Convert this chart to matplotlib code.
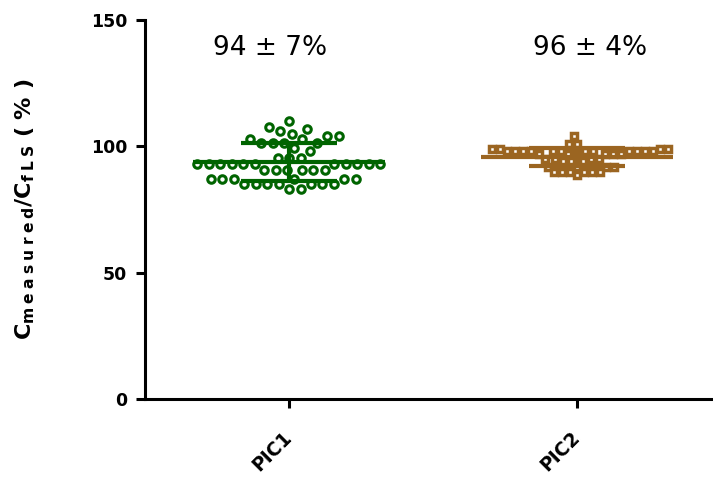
import numpy as np
import matplotlib
matplotlib.use("Agg")
import matplotlib.pyplot as plt

# values (percent)
groups = ["PIC1", "PIC2"]
pic1 = [110, 107.5, 107, 106, 105, 104, 104, 103, 103,
        101.5, 101.5, 101.5, 101.5, 99.5, 98, 95.5, 95.5, 95.5,
        93, 93, 93, 93, 93, 93, 93, 93, 93, 93, 93,
        90.5, 90.5, 90.5, 90.5, 90.5, 90.5,
        87, 87, 87, 87, 87, 87,
        85, 85, 85, 85, 85, 85, 85,
        83, 83]
pic2 = [104, 101, 101, 99, 99, 99, 99,
        98, 98, 98, 98, 98, 98, 98, 98, 98, 98, 98, 98,
        97, 97, 97, 97, 97, 97,
        95, 95, 95, 95, 94, 94, 94,
        92, 92, 92, 92,
        90, 90, 90, 90, 90, 90, 88.5]
colors = ["#006400", "#9B6521"]
markers = ["o", "s"]
spacing = [11.5, 8.0]   # px between neighbouring points (squares overlap in the original)
text_dx = [-0.066, 0.045]

W, H, DPI = 713, 479, 100
YPX = 379 / 150.0   # pixels per percent
XPX = 288.0         # pixels per category step


def swarm_offsets(values, d):
    ys = np.asarray(values, dtype=float) * YPX
    order = np.argsort(ys, kind="stable")
    px, py = [], []
    out = np.zeros(len(ys))
    for i in order:
        y = ys[i]
        cands = [0.0]
        for xx, yy in zip(px, py):
            dy = abs(yy - y)
            if dy < d:
                dx = np.sqrt(d * d - dy * dy)
                cands += [xx + dx, xx - dx]
        good = [c for c in cands
                if all((c - xx) ** 2 + (y - yy) ** 2 >= d * d - 1e-6 for xx, yy in zip(px, py))]
        tot = sum(px)
        best = min(good, key=lambda c: (round(abs(c), 3), c if tot > 0 else -c))
        px.append(best)
        py.append(y)
        out[i] = best
    return out / XPX


fig = plt.figure(figsize=(W / DPI, H / DPI), dpi=DPI)
ax = fig.add_axes([145 / W, 80 / H, 576 / W, 379 / H])

for k, vals in enumerate([pic1, pic2]):
    vals = np.array(vals)
    xs = k + swarm_offsets(vals, spacing[k])
    if markers[k] == "o":
        ax.plot(xs, vals, "o", ms=5.4, mew=2.2, mfc="white", mec=colors[k], zorder=2, clip_on=False)
    else:
        ax.plot(xs, vals, "s", ms=5.0, mew=2.5, mfc="white", mec=colors[k], zorder=2, clip_on=False)
    m = vals.mean()
    sd = vals.std(ddof=1)
    ax.hlines(m, k - 0.333, k + 0.333, color=colors[k], lw=3, zorder=3)
    ax.hlines([m - sd, m + sd], k - 0.165, k + 0.165, color=colors[k], lw=3, zorder=3)
    ax.vlines(k, m - sd, m + sd, color=colors[k], lw=3, zorder=3)
    ax.text(k + text_dx[k], 139, f"{m:.0f} ± {sd:.0f}%", ha="center", va="center",
            fontsize=19, family="DejaVu Sans")

ax.set_xlim(-0.5, 1.5)
ax.set_ylim(0, 150)
ax.set_yticks([0, 50, 100, 150])
ax.set_xticks([0, 1])
ax.set_xticklabels(groups, rotation=45, ha="right", va="center", rotation_mode="anchor",
                   fontsize=13.5, fontweight="bold")
for lab in ax.get_yticklabels():
    lab.set_fontweight("bold")
    lab.set_fontsize(12.5)
ax.spines["top"].set_visible(False)
ax.spines["right"].set_visible(False)
ax.spines["left"].set_linewidth(2.2)
ax.spines["bottom"].set_linewidth(2.2)
ax.tick_params(axis="both", length=6.5, width=2.2)
ax.tick_params(axis="y", pad=6.5)
ax.tick_params(axis="x", pad=19)

ax.set_ylabel(r"C$_{\mathbf{m\;e\;a\;s\;u\;r\;e\;d}}$/C$_{\mathbf{f\;L\;S}}$ ( % )",
              fontsize=16, fontweight="bold")
ax.yaxis.set_label_coords(-0.188, 0.5)

fig.savefig("out.png", dpi=DPI)
